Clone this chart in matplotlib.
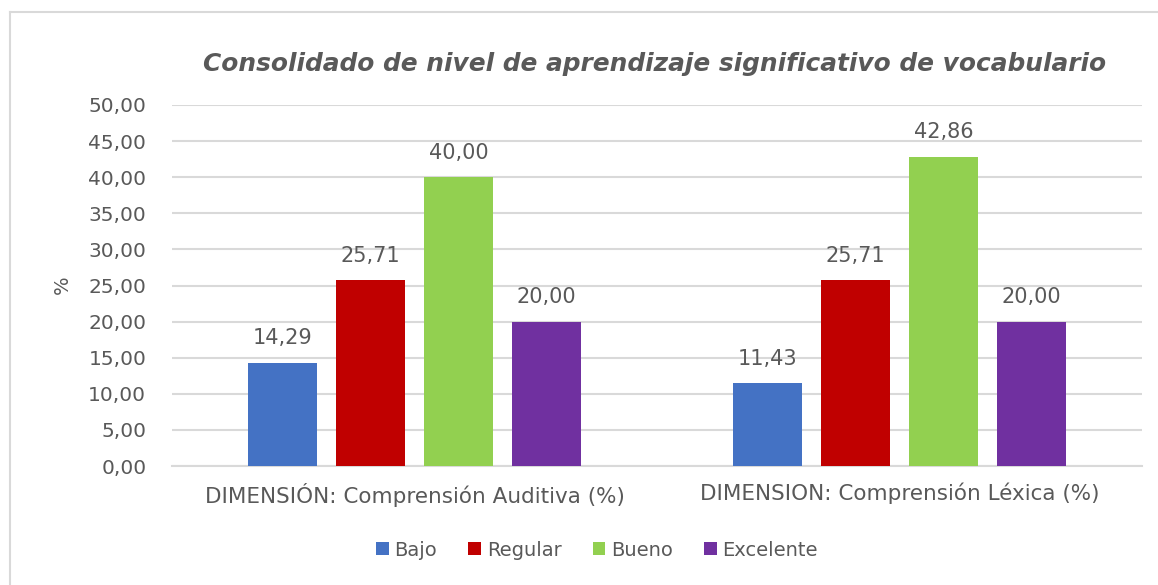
import matplotlib
matplotlib.use("Agg")
import matplotlib.pyplot as plt
from matplotlib.patches import Patch
from matplotlib.lines import Line2D
import numpy as np

categories = ["DIMENSIÓN: Comprensión Auditiva (%)", "DIMENSION: Comprensión Léxica (%)"]
series = ["Bajo", "Regular", "Bueno", "Excelente"]
values = {
    "Bajo": [14.29, 11.43],
    "Regular": [25.71, 25.71],
    "Bueno": [40.00, 42.86],
    "Excelente": [20.00, 20.00],
}
colors = {"Bajo": "#4472C4", "Regular": "#C00000", "Bueno": "#92D050", "Excelente": "#7030A0"}
yticks = [0, 5, 10, 15, 20, 25, 30, 35, 40, 45, 50]
title = "Consolidado de nivel de aprendizaje significativo de vocabulario"

TXT = "#595959"
GRID = "#D9D9D9"
FONT = "DejaVu Sans"

def fmt(v):
    return f"{v:.2f}".replace(".", ",")

fig = plt.figure(figsize=(11.58, 5.85), dpi=100)
ax = fig.add_axes([172 / 1158, 1 - 466 / 585, (1142 - 172) / 1158, (466 - 105) / 585])

x = np.arange(len(categories))
width = 0.142
step = 0.181
for i, s in enumerate(series):
    pos = x + (i - 1.5) * step
    ax.bar(pos, values[s], width=width, color=colors[s], zorder=3)
    for p, v in zip(pos, values[s]):
        ax.text(p, v + 2.0, fmt(v), ha="center", va="bottom", fontsize=15,
                color=TXT, family=FONT)

ax.set_xlim(-0.5, 1.5)
ax.set_ylim(0, 50)
ax.set_yticks(yticks)
ax.set_yticklabels([fmt(t) for t in yticks], fontsize=14.5, color=TXT, family=FONT)
ax.set_xticks(x)
ax.set_xticklabels(categories, fontsize=15.5, color=TXT, family=FONT)
ax.tick_params(axis="y", length=0, pad=18.5)
ax.tick_params(axis="x", length=0, pad=12)
ax.grid(axis="y", color=GRID, linewidth=1.5, zorder=0)
for sp in ["top", "right", "left"]:
    ax.spines[sp].set_visible(False)
ax.spines["bottom"].set_color(GRID)
ax.spines["bottom"].set_linewidth(1.5)
ax.set_axisbelow(True)

fig.text(62 / 1158, 1 - 285 / 585, "%", rotation=90, ha="center", va="center",
         fontsize=14, color=TXT, family=FONT)

fig.text(655 / 1158, 1 - 64 / 585, title, ha="center", va="center", fontsize=17.9,
         color=TXT, family=FONT, fontweight="bold", fontstyle="italic")

handles = [Patch(facecolor=colors[s], edgecolor="none") for s in series]
leg = fig.legend(handles, series, loc="center", bbox_to_anchor=(597 / 1158, 1 - 550 / 585),
                 ncol=4, frameon=False, handlelength=0.65, handleheight=0.65,
                 handletextpad=0.3, columnspacing=1.6,
                 prop={"family": FONT, "size": 14})
for t in leg.get_texts():
    t.set_color(TXT)

# chart frame
fig.add_artist(Line2D([10 / 1158, 10 / 1158], [0, 1 - 12 / 585], transform=fig.transFigure,
                      color=GRID, linewidth=1.5))
fig.add_artist(Line2D([10 / 1158, 1], [1 - 12 / 585, 1 - 12 / 585], transform=fig.transFigure,
                      color=GRID, linewidth=1.5))

fig.savefig("out.png", dpi=100)
